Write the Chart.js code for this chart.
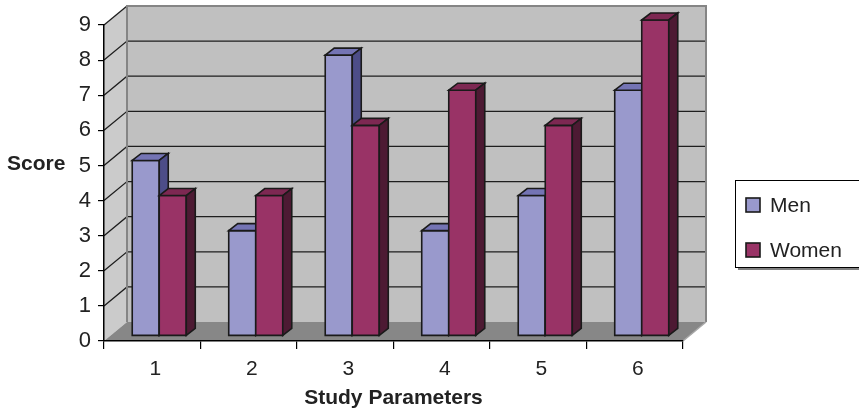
<!DOCTYPE html>
<html><head><meta charset="utf-8">
<script src="https://cdn.jsdelivr.net/npm/chart.js@4"></script>
<style>html,body{margin:0;padding:0;background:#fff}canvas{display:block}</style>
</head><body>
<canvas id="c" width="859" height="413"></canvas>
<script>
const categories = ['1','2','3','4','5','6'];
const menValues = [5,3,8,3,4,7];
const womenValues = [4,4,6,7,6,9];
const yTicks = [0,1,2,3,4,5,6,7,8,9];
const seriesNames = ['Men','Women'];
const yTitle = 'Score';
const xTitle = 'Study Parameters';

const FAM = '"Liberation Sans", Arial, sans-serif';
const WALL_DX = 23, WALL_DY = -19;
const SHIFT_X = 7, SHIFT_Y = -5;
const BAR_DX = 9, BAR_DY = -7;
const faceColors = [
  {front:'#9999cc', top:'#7474b4', side:'#4d4d88'},
  {front:'#993366', top:'#7d2852', side:'#4d1a33'}
];
const EDGE = '#1a1a1a';

function poly(ctx, pts, fill, stroke, lw){
  ctx.beginPath();
  ctx.moveTo(pts[0][0], pts[0][1]);
  for (let i=1;i<pts.length;i++) ctx.lineTo(pts[i][0], pts[i][1]);
  ctx.closePath();
  if (fill){ ctx.fillStyle = fill; ctx.fill(); }
  if (stroke){ ctx.strokeStyle = stroke; ctx.lineWidth = lw || 1; ctx.lineJoin='miter'; ctx.stroke(); }
}

const threeD = {
  id: 'threeD',
  beforeDraw(chart){
    const ctx = chart.ctx;
    const {left,right,top,bottom} = chart.chartArea;
    const ys = chart.scales.y;
    ctx.save();
    poly(ctx, [[left,top],[left+WALL_DX,top+WALL_DY],[left+WALL_DX,bottom+WALL_DY],[left,bottom]], '#cbcbcb');
    poly(ctx, [[left+WALL_DX,top+WALL_DY],[right+WALL_DX,top+WALL_DY],[right+WALL_DX,bottom+WALL_DY],[left+WALL_DX,bottom+WALL_DY]], '#c0c0c0');
    poly(ctx, [[left,bottom],[left+WALL_DX,bottom+WALL_DY],[right+WALL_DX,bottom+WALL_DY],[right,bottom]], '#878787');
    ctx.strokeStyle = '#1e1e1e'; ctx.lineWidth = 1.3;
    yTicks.forEach(v => {
      if (v === 0) return;
      const y = ys.getPixelForValue(v);
      ctx.beginPath();
      ctx.moveTo(left, y);
      ctx.lineTo(left+WALL_DX, y+WALL_DY);
      if (v !== yTicks[yTicks.length-1]) ctx.lineTo(right+WALL_DX, y+WALL_DY);
      ctx.stroke();
    });
    ctx.strokeStyle = '#858585'; ctx.lineWidth = 2;
    ctx.beginPath();
    ctx.moveTo(left+WALL_DX, bottom+WALL_DY);
    ctx.lineTo(left+WALL_DX, top+WALL_DY);
    ctx.lineTo(right+WALL_DX, top+WALL_DY);
    ctx.lineTo(right+WALL_DX, bottom+WALL_DY);
    ctx.stroke();
    ctx.strokeStyle = '#a8a8a8'; ctx.lineWidth = 1.5;
    ctx.beginPath();
    ctx.moveTo(right, bottom);
    ctx.lineTo(right+WALL_DX, bottom+WALL_DY);
    ctx.stroke();
    ctx.restore();
  },
  beforeDatasetsDraw(chart){
    chart.ctx.save();
    chart.ctx.translate(SHIFT_X, SHIFT_Y);
  },
  afterDatasetsDraw(chart){
    const ctx = chart.ctx;
    categories.forEach((c, i) => {
      [0,1].forEach(d => {
        const el = chart.getDatasetMeta(d).data[i];
        const p = el.getProps(['x','y','base','width'], true);
        const L = p.x - p.width/2, R = p.x + p.width/2, T = p.y, B = p.base;
        const col = faceColors[d];
        poly(ctx, [[L,T],[R,T],[R,B],[L,B]], col.front, EDGE, 1.6);
        poly(ctx, [[L,T],[L+BAR_DX,T+BAR_DY],[R+BAR_DX,T+BAR_DY],[R,T]], col.top, EDGE, 1.6);
        poly(ctx, [[R,T],[R+BAR_DX,T+BAR_DY],[R+BAR_DX,B+BAR_DY],[R,B]], col.side, EDGE, 1.6);
      });
    });
    ctx.restore();
  },
  afterDraw(chart){
    const ctx = chart.ctx;
    ctx.save();
    ctx.fillStyle = '#222';
    ctx.font = 'bold 21px ' + FAM;
    ctx.textAlign = 'left'; ctx.textBaseline = 'middle';
    ctx.fillText(yTitle, 7, 164);
    ctx.fillStyle = '#808080';
    ctx.fillRect(738, 268, 125, 2);
    ctx.strokeStyle = '#000'; ctx.lineWidth = 1;
    ctx.fillStyle = '#fff';
    ctx.fillRect(735.5, 180.5, 130, 87);
    ctx.strokeRect(735.5, 180.5, 130, 87);
    ctx.font = '21px ' + FAM;
    chart.data.datasets.forEach((ds, k) => {
      const yc = 205 + k*45;
      ctx.fillStyle = faceColors[k].front;
      ctx.fillRect(746, yc-7, 14, 14);
      ctx.strokeStyle = EDGE; ctx.lineWidth = 1.6;
      ctx.strokeRect(746, yc-7, 14, 14);
      ctx.fillStyle = '#222';
      ctx.fillText(ds.label, 770, yc+1);
    });
    ctx.restore();
  }
};

new Chart(document.getElementById('c'), {
  type: 'bar',
  data: {
    labels: categories,
    datasets: [
      {label: seriesNames[0], data: menValues, backgroundColor: faceColors[0].front, borderColor: EDGE, borderWidth: 1.5, categoryPercentage: 0.56, barPercentage: 1, clip: false},
      {label: seriesNames[1], data: womenValues, backgroundColor: faceColors[1].front, borderColor: EDGE, borderWidth: 1.5, categoryPercentage: 0.56, barPercentage: 1, clip: false}
    ]
  },
  options: {
    responsive: false, animation: false, devicePixelRatio: 1,
    layout: {padding: {left: 0, top: 25, right: 176, bottom: 0}},
    plugins: {legend: {display: false}, tooltip: {enabled: false}},
    scales: {
      x: {
        grid: {offset: true, drawOnChartArea: false, drawTicks: true, tickLength: 8, color: '#000', lineWidth: 1.2},
        border: {color: '#000', width: 1.5},
        ticks: {color: '#222', font: {size: 21, family: FAM}, padding: 8, maxRotation: 0, labelOffset: 3},
        title: {display: true, text: xTitle, color: '#222', font: {size: 21, weight: 'bold', family: FAM}, padding: {top: 0, bottom: 2}},
        afterFit(s){ s.height = 72; }
      },
      y: {
        min: 0, max: 9,
        afterBuildTicks(s){ s.ticks = yTicks.map(v => ({value: v})); },
        ticks: {color: '#222', font: {size: 22, family: FAM}, padding: 7},
        grid: {drawOnChartArea: false, drawTicks: true, tickLength: 6, color: '#000', lineWidth: 1.2},
        border: {color: '#000', width: 1.5},
        afterFit(s){ s.width = 104; }
      }
    }
  },
  plugins: [threeD]
});
</script>
</body></html>
